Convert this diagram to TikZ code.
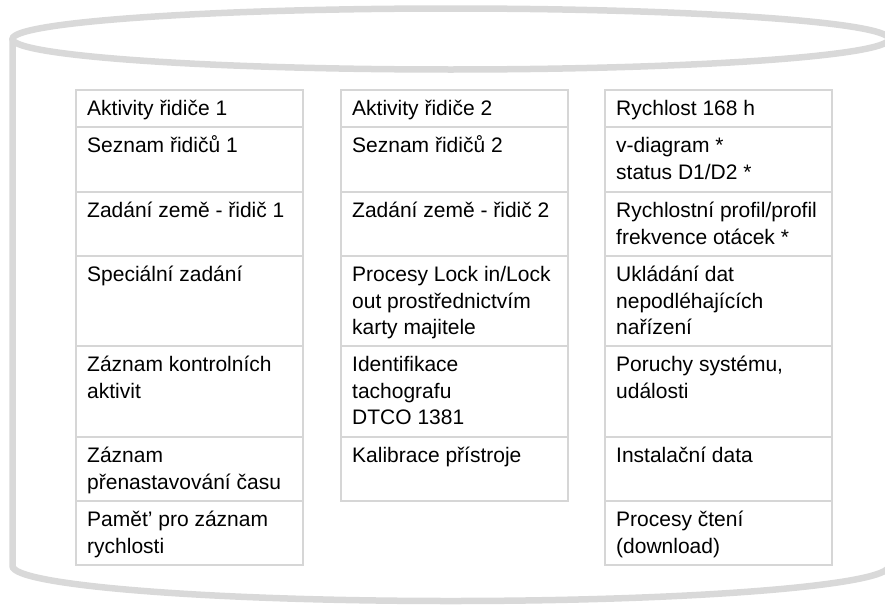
\documentclass[tikz,border=0pt]{standalone}
\usepackage{fontspec}
\setmainfont{Liberation Sans}
\usetikzlibrary{calc}
\definecolor{rim}{HTML}{D9D9D9}
\definecolor{cellline}{HTML}{D6D6D6}
\newcommand\cellnode[5]{%
  \node[cellbox, anchor=north west, minimum height={#4-#3}] (#1) at (#2,#3) {};
  \node[celltext] (#1t) at ($(#1.north west)+(11,25.5)$) {\parbox[t]{215pt}{\raggedright #5}};}
\begin{document}
\begin{tikzpicture}[x=1pt,y=-1pt,
  cellbox/.style={rectangle, draw=cellline, line width=2pt, minimum width=227pt, inner sep=0pt, outer sep=0pt},
  celltext/.style={inner sep=0pt, anchor=base west, font=\fontsize{21pt}{26.7pt}\selectfont, text=black},
  rimline/.style={draw=rim, line width=6.5pt}]
\useasboundingbox (0,0) rectangle (885,605);
\begin{scope}
  \clip (0,0) rectangle (885,605);
  \draw[rimline] (450.75,39) ellipse [x radius=438.25, y radius=30.5];
  \draw[rimline] (12.5,39) -- (12.5,566) arc[start angle=180, end angle=0, x radius=438.25, y radius=35] -- (889,39);
\end{scope}
% column 1
\cellnode{a1}{76}{90}{127}{Aktivity řidiče 1}
\cellnode{a2}{76}{127}{192}{Seznam řidičů 1}
\cellnode{a3}{76}{192}{256}{Zadání země - řidič 1}
\cellnode{a4}{76}{256}{346}{Speciální zadání}
\cellnode{a5}{76}{346}{437}{Záznam kontrolních\\aktivit}
\cellnode{a6}{76}{437}{501}{Záznam\\přenastavování času}
\cellnode{a7}{76}{501}{565}{Pamět’ pro záznam\\rychlosti}
% column 2
\cellnode{b1}{341}{90}{127}{Aktivity řidiče 2}
\cellnode{b2}{341}{127}{192}{Seznam řidičů 2}
\cellnode{b3}{341}{192}{256}{Zadání země - řidič 2}
\cellnode{b4}{341}{256}{346}{Procesy Lock in/Lock\\out prostřednictvím\\karty majitele}
\cellnode{b5}{341}{346}{437}{Identifikace\\tachografu\\DTCO 1381}
\cellnode{b6}{341}{437}{501}{Kalibrace přístroje}
% column 3
\cellnode{c1}{605}{90}{127}{Rychlost 168 h}
\cellnode{c2}{605}{127}{192}{v-diagram *\\status D1/D2 *}
\cellnode{c3}{605}{192}{256}{Rychlostní profil/profil\\frekvence otácek *}
\cellnode{c4}{605}{256}{346}{Ukládání dat\\nepodléhajících\\nařízení}
\cellnode{c5}{605}{346}{437}{Poruchy systému,\\události}
\cellnode{c6}{605}{437}{501}{Instalační data}
\cellnode{c7}{605}{501}{565}{Procesy čtení\\(download)}
\end{tikzpicture}
\end{document}
